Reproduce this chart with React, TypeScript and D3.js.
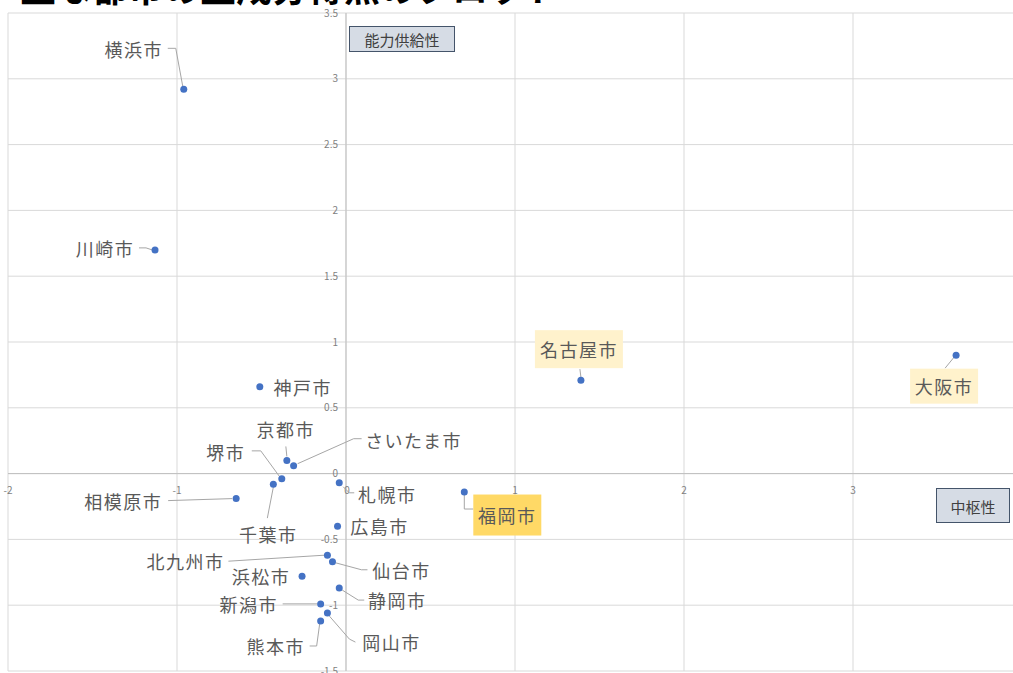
import React from "react";
import * as d3 from "d3";

const cities = ["横浜市","川崎市","神戸市","京都市","さいたま市","堺市","千葉市","相模原市","札幌市","広島市","北九州市","仙台市","浜松市","静岡市","新潟市","岡山市","熊本市","福岡市","名古屋市","大阪市"];
const xValues = [-0.96,-1.13,-0.51,-0.35,-0.31,-0.38,-0.43,-0.65,-0.04,-0.05,-0.11,-0.08,-0.26,-0.04,-0.15,-0.11,-0.15,0.70,1.39,3.61];
const yValues = [2.92,1.70,0.66,0.10,0.06,-0.04,-0.08,-0.19,-0.07,-0.40,-0.62,-0.67,-0.78,-0.87,-0.99,-1.06,-1.12,-0.14,0.71,0.90];
const xTicks = [-2,-1,0,1,2,3];
const yTicks = [3.5,3,2.5,2,1.5,1,0.5,0,-0.5,-1,-1.5];
const highlight = ["", "", "", "", "", "", "", "", "", "", "", "", "", "", "", "", "", "#ffd966", "#fff2cc", "#fff2cc"];

// label layout (pixel offsets of label centre and leader polyline relative to the point)
const labelOffsets: [number, number][] = [
  [-50,-40],[-50,-2],[43,0],[-1,-31],[120,-26],[-56,-27],[-5,50],[-113,2],[48,11],[42,0],
  [-142,6],[69,8],[-41,0],[58,12],[-72,0],[64,29],[-45,25],[43,23],[-2,-31],[-12,31]
];
const leaders: [number, number][][] = [
  [[-16,-41],[-8,-41],[-1,-3]],
  [[-16,-2],[-9,-2],[-3,0]],
  [],
  [[-1,-14],[0,-4]],
  [[68,-27],[60,-27],[4,-2]],
  [[-30,-28],[-21,-28],[-2,-2]],
  [[-6,34],[0,3]],
  [[-68,2],[-4,0]],
  [[4,4],[10,10],[15,10]],
  [],
  [[-99,6],[-3,0]],
  [[3,1],[29,8],[35,8]],
  [],
  [[3,2],[19,12],[25,12]],
  [[-38,0],[-3,0]],
  [[2,3],[22,26],[28,29]],
  [[-11,25],[-4,25],[-1,3]],
  [[0,3],[0,17],[9,17]],
  [[-1,-11],[0,-3]],
  [[-11,13],[-2,2]],
];
const boxSizes: [number, number][] = [[0,0],[0,0],[0,0],[0,0],[0,0],[0,0],[0,0],[0,0],[0,0],[0,0],[0,0],[0,0],[0,0],[0,0],[0,0],[0,0],[0,0],[68,41],[88,38],[68,35]];

const W = 1013, H = 673;
const font = "'Noto Sans CJK JP', 'Noto Sans', sans-serif";

export default function App() {
  const x = d3.scaleLinear().domain([-2, 4]).range([8, 1022]);
  const y = d3.scaleLinear().domain([-1.5, 3.5]).range([671, 13]);
  const line = d3.line();
  return (
    <svg width={W} height={H} style={{ position: "absolute", left: 0, top: 0, background: "#fff" }} fontFamily={font}>
      <rect x={0} y={0} width={W} height={H} fill="#fff" />
      <text x={20} y={2} fontSize={36} fontWeight="bold" fill="#000">主な都市の主成分得点のプロット</text>
      {/* gridlines */}
      {xTicks.map((t) => (
        <line key={"gx" + t} x1={x(t)} x2={x(t)} y1={y(3.5)} y2={y(-1.5)} stroke="#d9d9d9" strokeWidth={1} />
      ))}
      {yTicks.map((t) => (
        <line key={"gy" + t} x1={x(-2)} x2={x(4)} y1={y(t)} y2={y(t)} stroke="#d9d9d9" strokeWidth={1} />
      ))}
      {/* axis lines */}
      <line x1={x(0)} x2={x(0)} y1={y(3.5)} y2={y(-1.5)} stroke="#bfbfbf" />
      <line x1={x(-2)} x2={x(4)} y1={y(0)} y2={y(0)} stroke="#bfbfbf" />
      {/* tick labels */}
      {xTicks.map((t) => (
        <text key={"tx" + t} x={x(t) + (t === 0 ? 1 : 0)} y={y(0) + 20} fontSize={10} fill="#7f7f7f" textAnchor="middle">{t}</text>
      ))}
      {yTicks.map((t) => (
        <text key={"ty" + t} x={x(0) - 8} y={y(t) + 3.5} fontSize={10} fill="#7f7f7f" textAnchor="end">{t}</text>
      ))}
      {/* leaders */}
      {cities.map((c, i) => {
        const px = x(xValues[i]), py = y(yValues[i]);
        const pts = leaders[i].map(([dx, dy]) => [px + dx, py + dy] as [number, number]);
        return pts.length ? <path key={"l" + c} d={line(pts) || ""} fill="none" stroke="#a6a6a6" strokeWidth={1} /> : null;
      })}
      {/* label boxes and labels */}
      {cities.map((c, i) => {
        const px = x(xValues[i]), py = y(yValues[i]);
        const cx = px + labelOffsets[i][0], cy = py + labelOffsets[i][1];
        const [bw, bh] = boxSizes[i];
        return (
          <g key={"t" + c}>
            {highlight[i] && <rect x={cx - bw / 2} y={cy - bh / 2} width={bw} height={bh} fill={highlight[i]} />}
            <text x={cx} y={cy} fontSize={18} letterSpacing={1.5} fill="#595959" textAnchor="middle" dominantBaseline="central">{c}</text>
          </g>
        );
      })}
      {/* points */}
      {cities.map((c, i) => (
        <circle key={"p" + c} cx={x(xValues[i])} cy={y(yValues[i])} r={3.5} fill="#4472c4" />
      ))}
      {/* axis title callouts */}
      <rect x={349.5} y={26.5} width={105} height={25} fill="#d6dce5" stroke="#44546a" strokeWidth={1} />
      <text x={402} y={39} fontSize={15} fill="#404040" textAnchor="middle" dominantBaseline="central">能力供給性</text>
      <rect x={936.5} y={488.5} width={73} height={34} fill="#d6dce5" stroke="#44546a" strokeWidth={1} />
      <text x={973} y={506} fontSize={15} fill="#404040" textAnchor="middle" dominantBaseline="central">中枢性</text>
    </svg>
  );
}
